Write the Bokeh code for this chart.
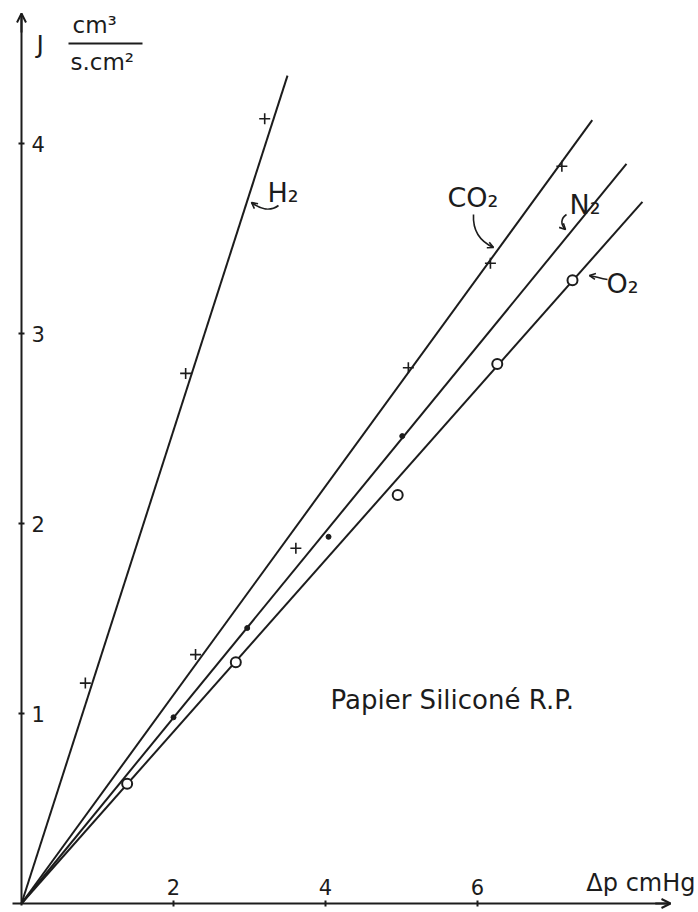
from bokeh.plotting import figure
from bokeh.models import LinearAxis, FixedTicker, Arrow, OpenHead, Label
from bokeh.embed import file_html
from bokeh.resources import INLINE

# ---------------- data ----------------
h2_dp = [0.84, 2.16, 3.20]
h2_j = [1.16, 2.79, 4.13]
co2_dp = [2.29, 3.61, 5.09, 6.17, 7.11]
co2_j = [1.31, 1.87, 2.82, 3.37, 3.88]
n2_dp = [2.00, 2.97, 4.04, 5.01]
n2_j = [0.98, 1.45, 1.93, 2.46]
o2_dp = [1.39, 2.82, 4.95, 6.26, 7.25]
o2_j = [0.63, 1.27, 2.15, 2.84, 3.28]

gases = ["H₂", "CO₂", "N₂", "O₂"]
fit_slopes = [1.245, 0.549, 0.489, 0.452]   # J per cmHg of the drawn lines
fit_end_dp = [3.50, 7.51, 7.96, 8.17]        # where each drawn line stops

x_ticks = [2, 4, 6]
y_ticks = [1, 2, 3, 4]

# ---------------- layout ----------------
W, H = 698, 912
OX, OY = 21, 903          # pixel of the origin
SX, SY = 76.0, 190.0      # pixels per unit
INK = "#1c1c1c"
FONT = "DejaVu Sans"


def P(xp, yp):
    """pixel -> data coordinates"""
    return ((xp - OX) / SX, (OY - yp) / SY)


p = figure(width=W, height=H, output_backend="svg", toolbar_location=None,
           x_axis_type=None, y_axis_type=None,
           x_range=(-OX / SX, (W - OX) / SX), y_range=(-(H - OY) / SY, OY / SY),
           min_border=0, background_fill_color="white", border_fill_color="white")
p.outline_line_color = None
p.grid.visible = False

x_end = P(670, 0)[0]
y_end = P(0, 13)[1]

xaxis = LinearAxis(fixed_location=0, ticker=FixedTicker(ticks=x_ticks),
                   bounds=(P(12, 0)[0], x_end))
yaxis = LinearAxis(fixed_location=0, ticker=FixedTicker(ticks=y_ticks),
                   bounds=(-0.01, y_end))
for ax in (xaxis, yaxis):
    ax.axis_line_color = INK
    ax.axis_line_width = 2
    ax.major_tick_line_color = INK
    ax.major_tick_line_width = 2
    ax.major_tick_in = 3
    ax.major_tick_out = 3
    ax.minor_tick_line_color = None
    ax.major_label_text_font = FONT
    ax.major_label_text_font_size = "21px"
    ax.major_label_text_color = INK
xaxis.major_label_standoff = 6
yaxis.major_label_standoff = 7
p.add_layout(xaxis, "above")
p.add_layout(yaxis, "right")

# axis arrow heads
p.add_layout(Arrow(end=OpenHead(size=9, line_color=INK, line_width=2),
                   x_start=x_end - 0.2, y_start=0, x_end=x_end, y_end=0,
                   line_color=INK, line_width=2))
p.add_layout(Arrow(end=OpenHead(size=9, line_color=INK, line_width=2),
                   x_start=0, y_start=y_end - 0.1, x_end=0, y_end=y_end,
                   line_color=INK, line_width=2))

# ---------------- fitted lines ----------------
for s, e in zip(fit_slopes, fit_end_dp):
    p.line([0, e], [0, s * e], line_color=INK, line_width=2)

# ---------------- measured points ----------------
p.scatter(h2_dp, h2_j, marker="cross", size=11, line_color=INK, line_width=1.6)
p.scatter(co2_dp, co2_j, marker="cross", size=11, line_color=INK, line_width=1.6)
p.scatter(n2_dp, n2_j, marker="circle", size=5, fill_color=INK, line_color=INK)
p.scatter(o2_dp, o2_j, marker="circle", size=10, fill_color="white",
          line_color=INK, line_width=2)

# ---------------- texts ----------------
def label(txt, xp, yp, size, align="left"):
    x, y = P(xp, yp)
    p.add_layout(Label(x=x, y=y, text=txt, text_font=FONT, text_font_size=size,
                       text_color=INK, text_align=align, text_baseline="middle"))


label("J", 36, 44, "25px")
label("cm³", 72, 24, "23px")
label("s.cm²", 70, 61, "23px")
fx0, fy = P(68, 43)
fx1, _ = P(142, 43)
p.line([fx0, fx1], [fy, fy], line_color=INK, line_width=2)

label("Δp cmHg", 695, 882, "24px", align="right")
label("Papier Siliconé R.P.", 330, 699, "26px")

label(gases[0], 267, 192, "27px")
label(gases[1], 447, 197, "27px")
label(gases[2], 569, 204, "27px")
label(gases[3], 606, 283, "27px")

# curved pointer arrows next to the gas names
pointers = [
    [(278, 205), (270, 211), (260, 209), (251, 202)],
    [(473, 214), (472, 232), (482, 242), (493, 247)],
    [(566, 214), (560, 218), (560, 224), (565, 229)],
    [(607, 279), (600, 278), (595, 276), (589, 275)],
]
for pts in pointers:
    (x0, y0), (c0x, c0y), (c1x, c1y), (x1, y1) = [P(*q) for q in pts]
    p.bezier(x0=[x0], y0=[y0], x1=[x1], y1=[y1], cx0=[c0x], cy0=[c0y],
             cx1=[c1x], cy1=[c1y], line_color=INK, line_width=1.6)
    p.add_layout(Arrow(end=OpenHead(size=6, line_color=INK, line_width=1.6),
                       x_start=c1x, y_start=c1y, x_end=x1, y_end=y1,
                       line_color=None, line_width=0))

open("out.html", "w").write(file_html(p, INLINE))
